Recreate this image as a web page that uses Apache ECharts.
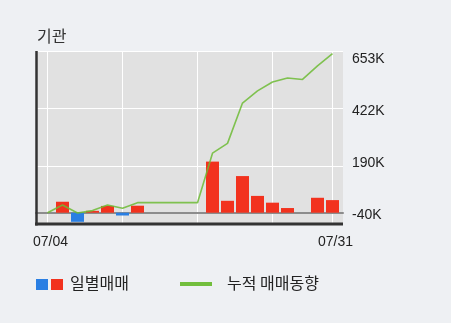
<!DOCTYPE html>
<html><head><meta charset="utf-8">
<script src="https://cdn.jsdelivr.net/npm/echarts@6/dist/echarts.min.js"></script>
<style>html,body{margin:0;padding:0;background:#eef0f3}#c{width:451px;height:323px}</style>
</head><body><div id="c"></div>
<script>
const categories = ['07/04','07/05','07/08','07/09','07/10','07/11','07/12','07/15','07/16','07/17','07/18','07/19','07/22','07/23','07/24','07/25','07/26','07/29','07/30','07/31'];
const dailyValues = [0, 47, -39, 8, 29, -12, 30, 0, 0, 0, 0, 219, 51, 157, 72, 43, 20, 0, 64, 54];
const cumulativeValues = [-40, -7, -41, -31, -7, -21, 3, 3, 3, 3, 3, 215, 257, 430, 482, 520, 537, 531, 589, 642];
const yTickLabels = ['-40K', '190K', '422K', '653K'];
const xLabelIdx = [0, 19];
const xGridIdx = [0, 5, 10, 15, 19];

const numFont = "'Liberation Sans', Arial, sans-serif";

const chart = echarts.init(document.getElementById('c'), null, {renderer: 'canvas'});
chart.setOption({
  backgroundColor: '#eef0f3',
  animation: false,
  grid: [
    {left: 36, right: 108, top: 51, bottom: 99},
    {left: 47.5, right: 118.5, top: 51, bottom: 99},
    {left: 36, right: 108, top: 59, bottom: 108}
  ],
  xAxis: [
    {gridIndex: 0, type: 'value', min: -0.7667, max: 19.7,
      axisLine: {show: true, onZero: true, onZeroAxisIndex: 2, lineStyle: {color: '#8c8c8c', width: 2}},
      axisTick: {show: false}, axisLabel: {show: false}, splitLine: {show: false}},
    {gridIndex: 1, type: 'category', data: categories, boundaryGap: false,
      axisLine: {show: false}, axisTick: {show: false},
      splitLine: {show: true, interval: (i) => xGridIdx.includes(i), lineStyle: {color: '#ffffff', width: 1}},
      axisLabel: {interval: (i) => xLabelIdx.includes(i), margin: 11, color: '#222', fontSize: 14,
        fontFamily: numFont, padding: [0, 0, 0, 6]}},
    {gridIndex: 2, type: 'value', show: false}
  ],
  yAxis: [
    {gridIndex: 0, type: 'value', min: 0, max: 3, interval: 1,
      axisLine: {show: false}, axisTick: {show: false}, axisLabel: {show: false},
      splitLine: {show: true, lineStyle: {color: '#ffffff', width: 1}}},
    {gridIndex: 0, type: 'value', min: -88.43, max: 653, show: false, splitLine: {show: false}},
    {gridIndex: 0, type: 'value', min: -48.4, max: 693, show: false, splitLine: {show: false}},
    {gridIndex: 2, type: 'value', position: 'right', min: -40, max: 653, interval: 231,
      axisLine: {show: false}, axisTick: {show: false}, splitLine: {show: false},
      axisLabel: {margin: 9, color: '#222', fontSize: 14, fontFamily: numFont,
        formatter: (v, i) => yTickLabels[i]}},
    {gridIndex: 1, type: 'value', show: false, splitLine: {show: false}}
  ],
  graphic: [
    {type: 'rect', z: -10, shape: {x: 36, y: 51, width: 307, height: 173}, style: {fill: '#e1e1e1'}},
    {type: 'line', z: 10, shape: {x1: 36.5, y1: 51, x2: 36.5, y2: 225.5}, style: {stroke: '#333', lineWidth: 2.5}},
    {type: 'line', z: 10, shape: {x1: 35, y1: 224, x2: 343, y2: 224}, style: {stroke: '#333', lineWidth: 3}},
    {type: 'text', left: 37, top: 28, style: {text: '기관', fill: '#333', font: "16px 'Noto Sans CJK KR'"}},
    {type: 'rect', shape: {x: 36, y: 279, width: 12, height: 11}, style: {fill: '#2a7fe3'}},
    {type: 'rect', shape: {x: 51, y: 279, width: 12, height: 11}, style: {fill: '#f2321e'}},
    {type: 'text', left: 70, top: 274.5, style: {text: '일별매매', fill: '#222', font: "16px 'Noto Sans CJK KR'"}},
    {type: 'rect', shape: {x: 180, y: 282, width: 32, height: 4}, style: {fill: '#72be3c'}},
    {type: 'text', left: 227, top: 274.5, style: {text: '누적 매매동향', fill: '#222', font: "16px 'Noto Sans CJK KR'"}}
  ],
  series: [
    {type: 'bar', xAxisIndex: 0, yAxisIndex: 2, data: dailyValues.map((v, i) => [i, v]), barWidth: 13, z: 2,
      itemStyle: {color: (p) => p.value[1] < 0 ? '#2a7fe3' : '#f2321e'}},
    {type: 'line', xAxisIndex: 0, yAxisIndex: 1, data: cumulativeValues.map((v, i) => [i, v]),
      symbol: 'none', z: 3, lineStyle: {color: '#6dbb35', width: 1.6, opacity: 0.85}}
  ]
});
</script>
</body></html>
